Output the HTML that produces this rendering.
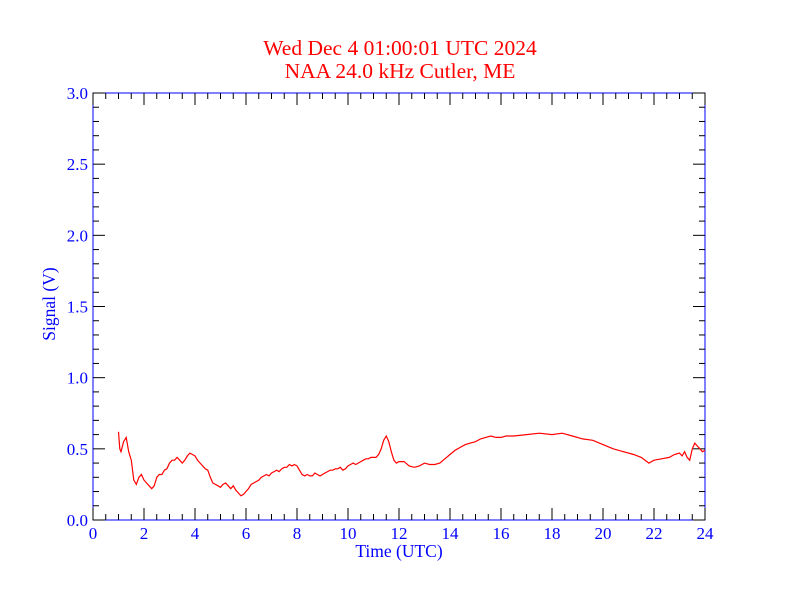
<!DOCTYPE html>
<html><head><meta charset="utf-8"><style>
html,body{margin:0;padding:0;background:#fff;}
svg{display:block;font-family:"Liberation Serif",serif;}
</style></head><body>
<svg id="chart" width="792" height="612" viewBox="0 0 792 612">
<rect x="0" y="0" width="792" height="612" fill="#fff"/>
<text x="400" y="55" text-anchor="middle" fill="#ff0000" font-size="21.5">Wed Dec 4 01:00:01 UTC 2024</text>
<text x="400" y="78" text-anchor="middle" fill="#ff0000" font-size="21.5">NAA 24.0 kHz Cutler, ME</text>
<g id="axes"></g>
<text x="399" y="557" text-anchor="middle" fill="#0000ff" font-size="17.5">Time (UTC)</text>
<text transform="translate(55,304) rotate(-90)" text-anchor="middle" fill="#0000ff" font-size="17.5">Signal (V)</text>
</svg>
<script>
const hours=[1.0,1.05,1.1,1.2,1.3,1.4,1.5,1.6,1.7,1.8,1.9,2.0,2.1,2.2,2.3,2.4,2.5,2.6,2.7,2.8,2.9,3.0,3.1,3.2,3.3,3.4,3.5,3.6,3.7,3.8,3.9,4.0,4.1,4.2,4.3,4.4,4.5,4.6,4.7,4.8,4.9,5.0,5.1,5.2,5.3,5.4,5.5,5.6,5.7,5.8,5.9,6.0,6.1,6.2,6.3,6.4,6.5,6.6,6.7,6.8,6.9,7.0,7.1,7.2,7.3,7.4,7.5,7.6,7.7,7.8,7.9,8.0,8.1,8.2,8.3,8.4,8.5,8.6,8.7,8.8,8.9,9.0,9.1,9.2,9.3,9.4,9.5,9.6,9.7,9.8,9.9,10.0,10.1,10.2,10.3,10.4,10.5,10.6,10.7,10.8,10.9,11.0,11.1,11.2,11.3,11.4,11.5,11.6,11.7,11.8,11.9,12.0,12.2,12.4,12.6,12.8,13.0,13.2,13.4,13.6,13.8,14.0,14.2,14.4,14.6,14.8,15.0,15.2,15.4,15.6,15.8,16.0,16.2,16.5,17.0,17.5,18.0,18.4,18.8,19.2,19.6,20.0,20.4,20.8,21.2,21.5,21.8,22.0,22.3,22.6,22.8,23.0,23.1,23.2,23.3,23.4,23.5,23.6,23.7,23.8,23.9,24.0];
const signal=[0.62,0.5,0.48,0.55,0.58,0.48,0.42,0.28,0.25,0.3,0.32,0.28,0.26,0.24,0.22,0.24,0.3,0.32,0.32,0.35,0.36,0.4,0.42,0.42,0.44,0.42,0.4,0.42,0.45,0.47,0.46,0.45,0.42,0.4,0.38,0.36,0.35,0.3,0.26,0.25,0.24,0.23,0.25,0.26,0.24,0.22,0.24,0.21,0.19,0.17,0.18,0.2,0.22,0.25,0.26,0.27,0.28,0.3,0.31,0.32,0.31,0.33,0.34,0.35,0.34,0.36,0.37,0.37,0.39,0.38,0.39,0.38,0.35,0.32,0.31,0.32,0.31,0.31,0.33,0.32,0.31,0.32,0.33,0.34,0.35,0.35,0.36,0.36,0.37,0.35,0.36,0.38,0.39,0.4,0.39,0.4,0.41,0.42,0.43,0.43,0.44,0.44,0.44,0.46,0.5,0.56,0.59,0.55,0.48,0.42,0.4,0.41,0.41,0.38,0.37,0.38,0.4,0.39,0.39,0.4,0.43,0.46,0.49,0.51,0.53,0.54,0.55,0.57,0.58,0.59,0.58,0.58,0.59,0.59,0.6,0.61,0.6,0.61,0.59,0.57,0.56,0.53,0.5,0.48,0.46,0.44,0.4,0.42,0.43,0.44,0.46,0.47,0.45,0.48,0.44,0.42,0.5,0.54,0.52,0.5,0.48,0.49];
const xTickLabels=["0","2","4","6","8","10","12","14","16","18","20","22","24"];
const yTickLabels=["0.0","0.5","1.0","1.5","2.0","2.5","3.0"];
const X0=93,X1=705,Y0=520,Y1=93;
const xs=h=>X0+(h/24)*(X1-X0);
const ys=v=>Y0-(v/3)*(Y0-Y1);
const NS="http://www.w3.org/2000/svg";
const g=document.getElementById('axes');
function mk(t,a){const e=document.createElementNS(NS,t);for(const k in a)e.setAttribute(k,a[k]);g.appendChild(e);return e;}
const frame=mk('rect',{x:X0,y:Y1,width:X1-X0,height:Y0-Y1,fill:'none',stroke:'#0000ff','stroke-width':1});


for(let i=0;i<=48;i++){const h=i*0.5,x=xs(h),L=(i%4===0)?12:6;
 const t1=mk('line',{x1:x,y1:Y0,x2:x,y2:Y0-L,stroke:'#000'});
 
 
 const t2=mk('line',{x1:x,y1:Y1,x2:x,y2:Y1+L,stroke:'#000'});
 
 }
xTickLabels.forEach((s,i)=>{const t=mk('text',{x:xs(+s),y:Y0+19,'text-anchor':'middle',fill:'#0000ff','font-size':17});t.textContent=s;
 
 });
for(let i=0;i<=30;i++){const v=i*0.1,y=ys(v),L=(i%5===0)?12:6;
 const t1=mk('line',{x1:X0,y1:y,x2:X0+L,y2:y,stroke:'#000'});
 
 
 const t2=mk('line',{x1:X1,y1:y,x2:X1-L,y2:y,stroke:'#000'});
 
 }
yTickLabels.forEach(s=>{const t=mk('text',{x:X0-5,y:ys(+s)+6,'text-anchor':'end',fill:'#0000ff','font-size':17});t.textContent=s;
 
 });
const pts=hours.map((h,i)=>xs(h).toFixed(1)+','+ys(signal[i]).toFixed(1)).join(' ');
const line=mk('polyline',{points:pts,fill:'none',stroke:'#ff0000','stroke-width':1.2});


</script>
</body></html>
